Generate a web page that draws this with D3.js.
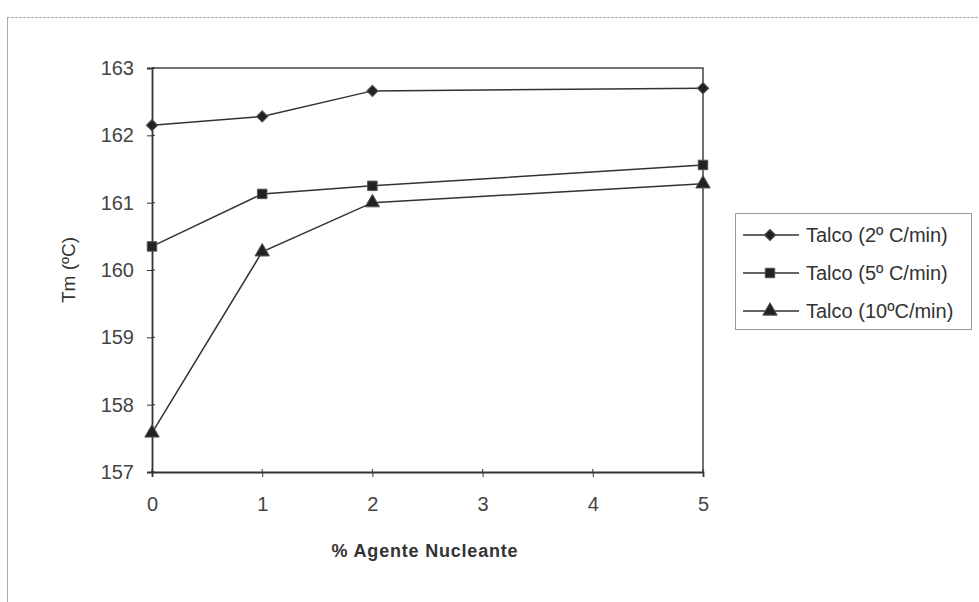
<!DOCTYPE html>
<html><head><meta charset="utf-8">
<script src="https://cdn.jsdelivr.net/npm/d3@7"></script>
<style>body{margin:0;background:#fff;} text{font-family:"Liberation Sans",Arial,sans-serif;}</style>
</head><body><svg id="c" width="979" height="602"></svg>
<script>
const xValues = [0, 1, 2, 5];
const seriesNames = ["Talco (2º C/min)", "Talco (5º C/min)", "Talco (10ºC/min)"];
const seriesSymbols = ["diamond", "square", "triangle"];
const talco2 = [162.15, 162.28, 162.66, 162.70];
const talco5 = [160.35, 161.13, 161.25, 161.56];
const talco10 = [157.58, 160.27, 161.00, 161.28];
const xTicks = [0, 1, 2, 3, 4, 5];
const yTicks = [157, 158, 159, 160, 161, 162, 163];
const xTitle = "% Agente Nucleante";
const yTitle = "Tm (ºC)";

const series = [talco2, talco5, talco10];
const svg = d3.select("#c");
const L = 152, R = 703, T = 68, B = 472;
const x = d3.scaleLinear().domain([0, 5]).range([L, R]);
const y = d3.scaleLinear().domain([157, 163]).range([B, T]);
const ink = "#333";

// outer frame
svg.append("line").attr("x1", 7).attr("x2", 979).attr("y1", 17.5).attr("y2", 17.5).attr("stroke", "#aaa").attr("stroke-dasharray", "3,1");
svg.append("line").attr("x1", 7.5).attr("x2", 7.5).attr("y1", 17).attr("y2", 602).attr("stroke", "#aaa");

// plot box top & right
svg.append("path").attr("d", `M${L},${T}H${R}V${B}`).attr("fill", "none").attr("stroke", "#444").attr("stroke-width", 1.5);

const ya = svg.append("g").attr("transform", `translate(${L},0)`)
  .call(d3.axisLeft(y).tickValues(yTicks).tickSize(5).tickPadding(13).tickFormat(d3.format("d")));
const xa = svg.append("g").attr("transform", `translate(0,${B})`)
  .call(d3.axisBottom(x).tickValues(xTicks).tickSize(5).tickPadding(20).tickFormat(d3.format("d")));
[ya, xa].forEach(a => {
  a.selectAll("path").attr("stroke", "#333").attr("stroke-width", 1.8);
  a.selectAll("line").attr("stroke", "#333");
  a.selectAll("text").attr("font-size", 20).attr("fill", "#444").attr("font-family", "Liberation Sans, Arial, sans-serif");
});
// inner tick halves
svg.append("g").selectAll("line").data(yTicks).join("line")
  .attr("x1", L).attr("x2", L + 3).attr("y1", d => y(d)).attr("y2", d => y(d)).attr("stroke", "#333");
svg.append("g").selectAll("line").data(xTicks).join("line")
  .attr("x1", d => x(d)).attr("x2", d => x(d)).attr("y1", B).attr("y2", B - 3).attr("stroke", "#333");

const symMap = {diamond: d3.symbolSquare, square: d3.symbolSquare, triangle: d3.symbolTriangle};
const symSize = {diamond: 64, square: 90, triangle: 90};
const symRot = {diamond: 45, square: 0, triangle: 0};

const line = d3.line().x((d, i) => x(xValues[i])).y(d => y(d));
series.forEach((s, k) => {
  const t = seriesSymbols[k];
  svg.append("path").datum(s).attr("d", line).attr("fill", "none").attr("stroke", ink).attr("stroke-width", 1.5);
  svg.append("g").selectAll("path").data(s).join("path")
    .attr("transform", (d, i) => `translate(${x(xValues[i])},${y(d)}) rotate(${symRot[t]})`)
    .attr("d", d3.symbol().type(symMap[t]).size(symSize[t]))
    .attr("fill", "#222").attr("stroke", "#555").attr("stroke-width", 1);
});

// axis titles
svg.append("text").attr("transform", `translate(75,270) rotate(-90)`).attr("text-anchor", "middle")
  .attr("font-size", 19).attr("fill", "#333").text(yTitle);
svg.append("text").attr("x", 425).attr("y", 557).attr("text-anchor", "middle")
  .attr("font-size", 18).attr("font-weight", "bold").attr("fill", "#333").attr("letter-spacing", 0.8).text(xTitle);

// legend
svg.append("rect").attr("x", 735.5).attr("y", 213.5).attr("width", 236).attr("height", 116)
  .attr("fill", "#fff").attr("stroke", "#999");
const legY = [235, 273, 311];
seriesNames.forEach((n, k) => {
  const t = seriesSymbols[k];
  const g = svg.append("g");
  g.append("line").attr("x1", 743).attr("x2", 799).attr("y1", legY[k]).attr("y2", legY[k]).attr("stroke", ink).attr("stroke-width", 1.5);
  g.append("path").attr("transform", `translate(770,${legY[k]}) rotate(${symRot[t]})`)
    .attr("d", d3.symbol().type(symMap[t]).size(symSize[t]))
    .attr("fill", "#222").attr("stroke", "#555");
  g.append("text").attr("x", 806).attr("y", legY[k] + 7).attr("font-size", 20).attr("fill", "#333").text(n);
});
</script></body></html>
